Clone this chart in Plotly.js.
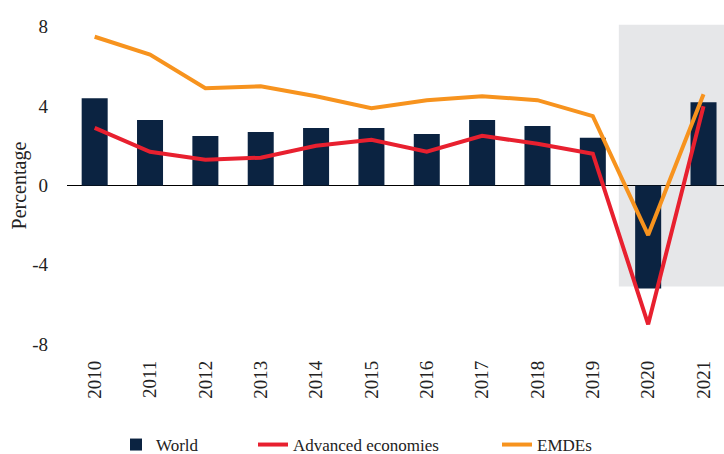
<!DOCTYPE html>
<html>
<head>
<meta charset="utf-8">
<script src="https://cdn.plot.ly/plotly-3.0.1.min.js"></script>
<style>html,body{margin:0;padding:0;background:#fff;}#chart{width:724px;height:454px;}</style>
</head>
<body>
<div id="chart"></div>
<script>
var years = ["2010","2011","2012","2013","2014","2015","2016","2017","2018","2019","2020","2021"];
var world = [4.4, 3.3, 2.5, 2.7, 2.9, 2.9, 2.6, 3.3, 3.0, 2.4, -5.2, 4.2];
var advanced = [2.9, 1.7, 1.3, 1.4, 2.0, 2.3, 1.7, 2.5, 2.1, 1.6, -7.0, 4.0];
var emdes = [7.5, 6.6, 4.9, 5.0, 4.5, 3.9, 4.3, 4.5, 4.3, 3.5, -2.5, 4.6];
var yTicks = [-8, -4, 0, 4, 8];

var font = "Liberation Serif, Times New Roman, serif";
var idx = years.map(function(_, i){ return i; });

var traces = [
  {type:"bar", x: idx, y: world, name:"World", width:0.47,
   marker:{color:"#0b2341"}, legend:"legend", hoverinfo:"y"},
  {type:"scatter", mode:"lines", x: idx, y: advanced, name:"Advanced economies",
   line:{color:"#e8202f", width:4}, legend:"legend2"},
  {type:"scatter", mode:"lines", x: idx, y: emdes, name:"EMDEs",
   line:{color:"#f7931e", width:4}, legend:"legend3"}
];

var legendBase = {orientation:"h", yanchor:"middle", xanchor:"left", y:-0.255,
  bgcolor:"rgba(0,0,0,0)", font:{family:font, size:17, color:"#222"}};

var layout = {
  width:724, height:454,
  margin:{l:67, r:0, t:7, b:98, autoexpand:false},
  paper_bgcolor:"#fff", plot_bgcolor:"rgba(0,0,0,0)",
  font:{family:font, color:"#222"},
  showlegend:true,
  xaxis:{range:[-0.5, 11.37], tickmode:"array", tickvals: idx, ticktext: years,
    tickangle:-90, tickfont:{family:font, size:19, color:"#222"},
    showgrid:false, zeroline:false, showline:false, ticks:"", automargin:false},
  yaxis:{range:[-8.6, 9], tickmode:"array", tickvals: yTicks, ticktext: yTicks.map(String),
    tickfont:{family:font, size:19, color:"#222"}, showgrid:false,
    zeroline:true, zerolinecolor:"#000", zerolinewidth:1.5, showline:false, ticks:"",
    ticklabelstandoff:18, automargin:false},
  legend: Object.assign({}, legendBase, {x:(116-67)/657}),
  legend2: Object.assign({}, legendBase, {x:(253-67)/657}),
  legend3: Object.assign({}, legendBase, {x:(497-67)/657}),
  shapes:[{type:"rect", xref:"x", yref:"y", x0:9.47, x1:11.37, y0:-5.1, y1:8.1,
    fillcolor:"#e6e7e9", line:{width:0}, layer:"below"}],
  annotations:[{text:"Percentage", xref:"paper", yref:"y", x:-(67-19)/657, y:0,
    xanchor:"center", yanchor:"middle", textangle:-90, showarrow:false,
    font:{family:font, size:20, color:"#222"}}]
};

Plotly.newPlot("chart", traces, layout, {displayModeBar:false, staticPlot:true});
</script>
</body>
</html>
